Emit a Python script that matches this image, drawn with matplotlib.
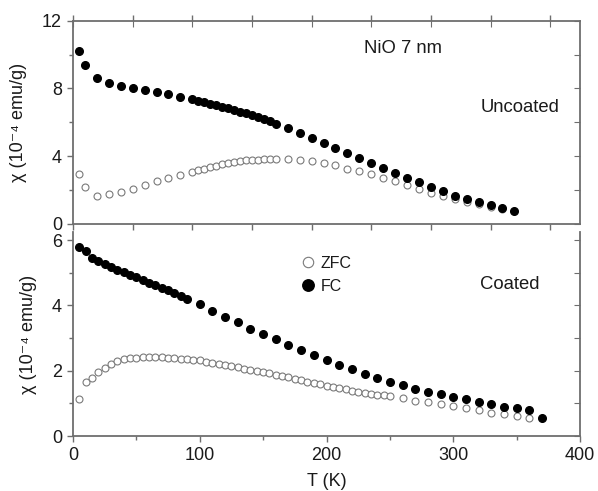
import matplotlib
matplotlib.use("Agg")
import matplotlib.pyplot as plt
from matplotlib.ticker import MultipleLocator

plt.rcParams["font.family"] = ["Liberation Sans", "DejaVu Sans"]
plt.rcParams["mathtext.default"] = "regular"

# --- Uncoated sample (top panel) ---
T_fc_unc = [5, 10, 20, 30, 40, 50, 60, 70, 80, 90,
            100, 105, 110, 115, 120, 125, 130, 135, 140, 145, 150, 155, 160, 165, 170,
            180, 190, 200, 210, 220, 230, 240, 250, 260, 270, 280, 290, 300, 310,
            320, 330, 340, 350, 360, 370]
chi_fc_unc = [10.24, 9.41, 8.63, 8.31, 8.16, 8.02, 7.92, 7.82, 7.67, 7.51,
              7.37, 7.29, 7.20, 7.11, 7.02, 6.93, 6.84, 6.74, 6.64, 6.54, 6.43, 6.32, 6.21, 6.06, 5.88,
              5.67, 5.35, 5.08, 4.78, 4.51, 4.20, 3.92, 3.59, 3.31, 3.00, 2.71, 2.47, 2.20, 1.92,
              1.67, 1.47, 1.27, 1.12, 0.92, 0.76]

T_zfc_unc = [5, 10, 20, 30, 40, 50, 60, 70, 80, 90,
             100, 105, 110, 115, 120, 125, 130, 135, 140, 145, 150, 155, 160, 165, 170,
             180, 190, 200, 210, 220, 230, 240, 250, 260, 270, 280, 290, 300, 310,
             320, 330, 340, 350, 360]
chi_zfc_unc = [2.94, 2.20, 1.65, 1.75, 1.86, 2.08, 2.29, 2.51, 2.69, 2.88,
               3.04, 3.16, 3.27, 3.37, 3.45, 3.53, 3.61, 3.67, 3.71, 3.76, 3.78, 3.80, 3.82, 3.84, 3.84,
               3.83, 3.76, 3.71, 3.61, 3.47, 3.27, 3.12, 2.94, 2.72, 2.53, 2.29, 2.08, 1.84, 1.65,
               1.47, 1.29, 1.16, 1.02, 0.86]

# --- Coated sample (bottom panel) ---
T_fc_coat = [5, 10, 15, 20, 25, 30, 35, 40, 45, 50, 55, 60, 65, 70, 75, 80, 85, 90,
             100, 110, 120, 130, 140, 150, 160, 170, 180, 190, 200, 210, 220, 230, 240,
             250, 260, 270, 280, 290, 300, 310, 320, 330, 340, 350, 360, 370]
chi_fc_coat = [5.79, 5.66, 5.45, 5.36, 5.27, 5.18, 5.10, 5.02, 4.94, 4.86, 4.78, 4.70, 4.62,
               4.54, 4.46, 4.38, 4.29, 4.19,
               4.03, 3.83, 3.65, 3.48, 3.29, 3.12, 2.96, 2.80, 2.62, 2.48, 2.32, 2.18, 2.04, 1.91,
               1.78, 1.66, 1.55, 1.45, 1.36, 1.28, 1.19, 1.12, 1.03, 0.98, 0.90, 0.85, 0.79, 0.54]

T_zfc_coat = [5, 10, 15, 20, 25, 30, 35, 40, 45, 50, 55, 60, 65, 70, 75, 80, 85, 90, 95,
              100, 105, 110, 115, 120, 125, 130, 135, 140, 145, 150, 155, 160, 165, 170, 175,
              180, 185, 190, 195, 200, 205, 210, 215, 220, 225, 230, 235, 240, 245, 250,
              260, 270, 280, 290, 300, 310, 320, 330, 340, 350, 360]
chi_zfc_coat = [1.13, 1.64, 1.78, 1.96, 2.09, 2.21, 2.30, 2.35, 2.38, 2.40, 2.41, 2.42, 2.42,
                2.41, 2.40, 2.39, 2.37, 2.35, 2.34,
                2.32, 2.27, 2.24, 2.21, 2.18, 2.14, 2.10, 2.06, 2.02, 1.99, 1.96, 1.92, 1.88,
                1.84, 1.80, 1.76, 1.71, 1.66, 1.61, 1.58, 1.54, 1.50, 1.46, 1.43, 1.39, 1.36,
                1.33, 1.30, 1.27, 1.25, 1.23,
                1.16, 1.08, 1.04, 0.98, 0.92, 0.87, 0.80, 0.72, 0.66, 0.61, 0.56]

SPINE = "#6e6e6e"
TEXT = "#1a1a1a"
ZFC_EDGE = "#7a7a7a"
FS = 13
YLABEL = "χ (10⁻⁴ emu/g)"


def style_axes(ax):
    for s in ax.spines.values():
        s.set_color(SPINE)
        s.set_linewidth(1.3)
    ax.tick_params(which="both", colors=SPINE, labelcolor=TEXT, labelsize=FS, width=1.0)
    ax.tick_params(which="major", length=4.5)
    ax.tick_params(which="minor", length=3)


fig = plt.figure(figsize=(5.98, 4.91), dpi=100)
ax1 = fig.add_axes([0.1221, 0.5438, 0.8478, 0.414])
ax2 = fig.add_axes([0.1221, 0.1120, 0.8478, 0.4155])

# top panel
ax1.plot(T_zfc_unc, chi_zfc_unc, "o", ms=5.0, mfc="white", mec=ZFC_EDGE, mew=0.8, zorder=2)
ax1.plot(T_fc_unc, chi_fc_unc, "o", ms=5.5, mfc="black", mec="black", zorder=3)
ax1.set_xlim(0, 425)
ax1.set_ylim(0, 12)
ax1.xaxis.set_major_locator(MultipleLocator(50))
ax1.yaxis.set_major_locator(MultipleLocator(4))
ax1.yaxis.set_minor_locator(MultipleLocator(2))
style_axes(ax1)
ax1.tick_params(axis="x", which="both", bottom=True, top=True, labelbottom=False, length=4)
ax1.tick_params(axis="x", which="both", direction="out")
ax1r = ax1.secondary_yaxis("right")
ax1r.yaxis.set_major_locator(MultipleLocator(2))
ax1r.tick_params(direction="in", length=4, colors=SPINE, labelright=False)
ax1t = ax1.secondary_xaxis("top")
ax1t.xaxis.set_major_locator(MultipleLocator(50))
ax1t.tick_params(direction="in", length=4, colors=SPINE, labeltop=False)
for sec in (ax1r, ax1t):
    for s in sec.spines.values():
        s.set_visible(False)
ax1.set_ylabel(YLABEL, fontsize=FS, color=TEXT)
ax1.yaxis.set_label_coords(-0.09, 0.5)
ax1.text(0.651, 0.863, "NiO 7 nm", transform=ax1.transAxes, ha="center", va="center",
         fontsize=13.3, color=TEXT)
ax1.text(0.882, 0.574, "Uncoated", transform=ax1.transAxes, ha="center", va="center",
         fontsize=13.3, color=TEXT)

# bottom panel
zfc, = ax2.plot(T_zfc_coat, chi_zfc_coat, "o", ms=5.0, mfc="white", mec=ZFC_EDGE, mew=0.8,
                zorder=2, label="ZFC")
fc, = ax2.plot(T_fc_coat, chi_fc_coat, "o", ms=5.5, mfc="black", mec="black", zorder=3,
               label="FC")
ax2.set_xlim(0, 400)
ax2.set_ylim(0, 6.25)
ax2.xaxis.set_major_locator(MultipleLocator(100))
ax2.xaxis.set_minor_locator(MultipleLocator(50))
ax2.yaxis.set_major_locator(MultipleLocator(2))
ax2.yaxis.set_minor_locator(MultipleLocator(1))
style_axes(ax2)
ax2.spines["top"].set_visible(False)
ax2r = ax2.secondary_yaxis("right")
ax2r.yaxis.set_major_locator(MultipleLocator(1))
ax2r.tick_params(direction="in", length=4, colors=SPINE, labelright=False)
for s in ax2r.spines.values():
    s.set_visible(False)
ax2.set_xlabel("T (K)", fontsize=FS, color=TEXT, labelpad=6.5)
ax2.set_ylabel(YLABEL, fontsize=FS, color=TEXT)
ax2.yaxis.set_label_coords(-0.071, 0.5)
ax2.text(0.862, 0.744, "Coated", transform=ax2.transAxes, ha="center", va="center",
         fontsize=13.3, color=TEXT)
ax2.legend(handles=[zfc, fc], loc="center left", bbox_to_anchor=(0.455, 0.79),
           frameon=False, fontsize=11.5, handlelength=0.5, handletextpad=0.55,
           labelspacing=0.5, markerscale=1.5, borderpad=0, borderaxespad=0,
           labelcolor=TEXT)

fig.savefig("out.png", dpi=100)
